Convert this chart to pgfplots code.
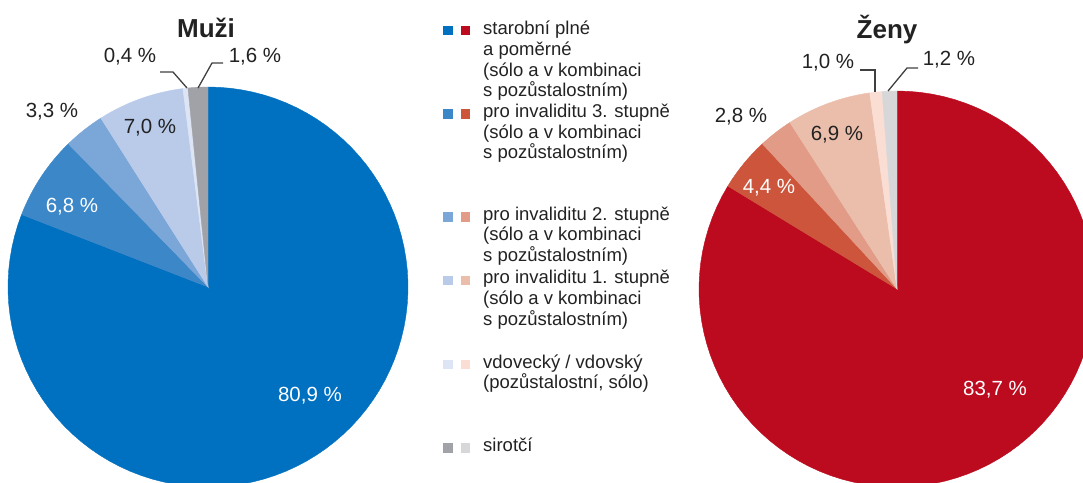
\documentclass[border=0pt]{standalone}
\usepackage{pgfplots}
\pgfplotsset{compat=1.18}
\usepackage{pgfplotstable}
\usepackage{fontspec}
\setmainfont{Liberation Sans}

\definecolor{m1}{RGB}{0,112,192}
\definecolor{m2}{RGB}{60,135,200}
\definecolor{m3}{RGB}{123,166,216}
\definecolor{m4}{RGB}{186,203,234}
\definecolor{m5}{RGB}{221,229,245}
\definecolor{m6}{RGB}{160,162,167}
\definecolor{z1}{RGB}{188,10,30}
\definecolor{z2}{RGB}{205,85,60}
\definecolor{z3}{RGB}{225,155,135}
\definecolor{z4}{RGB}{235,190,172}
\definecolor{z5}{RGB}{250,222,212}
\definecolor{z6}{RGB}{215,215,218}
\definecolor{txt}{RGB}{34,34,34}
\definecolor{lead}{RGB}{64,64,64}

% shares in percent, in drawing order (clockwise from 12 o'clock)
\pgfplotstableread{
id value
1 80.9
2 6.8
3 3.3
4 7.0
5 0.4
6 1.6
}\muzi
\pgfplotstableread{
id value
1 83.7
2 4.4
3 2.8
4 6.9
5 1.0
6 1.2
}\zeny

\newcommand\pieangles[2]{%
  \xdef\curang{90}%
  \foreach \i in {0,...,5}{%
    \pgfplotstablegetelem{\i}{value}\of{#1}%
    \pgfmathsetmacro\nextang{\curang-3.6*\pgfplotsretval}%
    \expandafter\xdef\csname #2s\i\endcsname{\curang}%
    \expandafter\xdef\csname #2e\i\endcsname{\nextang}%
    \xdef\curang{\nextang}%
  }%
}
\pieangles{\muzi}{pm}
\pieangles{\zeny}{pz}

% #1 prefix, #2 index, #3 colour, #4 radius
\newcommand\slice[4]{%
  \addplot[fill=#3, draw=#3, line width=0.4pt, samples=90, variable=\t,
    domain=\csname #1e#2\endcsname:\csname #1s#2\endcsname]
    ({#4*cos(\t)},{#4*sin(\t)}) -- (axis cs:0,0) -- cycle;
}

\newcommand\legline[2]{%
  \node[anchor=west, inner sep=0pt, text=txt, text height=1.5ex, text depth=0.25ex,
    font=\fontsize{18.5}{21}\selectfont] at (483pt,-#1pt) {#2};}
\newcommand\legsq[3]{%
  \fill[#2] (443pt,-#1pt+4.75pt) rectangle ++(9.5pt,-9.5pt);
  \fill[#3] (460.5pt,-#1pt+4.75pt) rectangle ++(9.5pt,-9.5pt);}

\begin{document}
\begin{tikzpicture}
\useasboundingbox (0,0) rectangle (1083pt,-482pt);
\clip (0,0) rectangle (1083pt,-482pt);

% ---------------- Muži ----------------
\begin{axis}[hide axis, x=1pt, y=1pt, xmin=-200, xmax=200, ymin=-200, ymax=200,
  at={(208pt,-287pt)}, anchor=center, clip=false]
  \slice{pm}{0}{m1}{200}
  \slice{pm}{1}{m2}{200}
  \slice{pm}{2}{m3}{200}
  \slice{pm}{3}{m4}{200}
  \slice{pm}{4}{m5}{200}
  \slice{pm}{5}{m6}{200}
  \node[font=\fontsize{26}{30}\selectfont\bfseries, text=txt] at (axis cs:-2,259) {Muži};
  \node[font=\fontsize{20.5}{24}\selectfont, text=white] at (axis cs:102,-109) {80,9 \%};
  \node[font=\fontsize{20.5}{24}\selectfont, text=white] at (axis cs:-136,80) {6,8 \%};
  \node[font=\fontsize{20.5}{24}\selectfont, text=txt] at (axis cs:-156,175) {3,3 \%};
  \node[font=\fontsize{20.5}{24}\selectfont, text=txt] at (axis cs:-58,159) {7,0 \%};
  \node[font=\fontsize{20.5}{24}\selectfont, text=txt] at (axis cs:-78,230) {0,4 \%};
  \node[font=\fontsize{20.5}{24}\selectfont, text=txt] at (axis cs:47,230) {1,6 \%};
  \draw[lead, line width=1.3pt] (axis cs:-21,199) -- (axis cs:-35,215) -- (axis cs:-48,215);
  \draw[lead, line width=1.3pt] (axis cs:-10,199) -- (axis cs:4,224) -- (axis cs:15,224);
\end{axis}

% ---------------- Ženy ----------------
\begin{axis}[hide axis, x=1pt, y=1pt, xmin=-200, xmax=200, ymin=-200, ymax=200,
  at={(897pt,-289pt)}, anchor=center, clip=false]
  \slice{pz}{0}{z1}{198}
  \slice{pz}{1}{z2}{198}
  \slice{pz}{2}{z3}{198}
  \slice{pz}{3}{z4}{198}
  \slice{pz}{4}{z5}{198}
  \slice{pz}{5}{z6}{198}
  \node[font=\fontsize{26}{30}\selectfont\bfseries, text=txt] at (axis cs:-10,259) {Ženy};
  \node[font=\fontsize{20.5}{24}\selectfont, text=white] at (axis cs:98,-101) {83,7 \%};
  \node[font=\fontsize{20.5}{24}\selectfont, text=white] at (axis cs:-128,101) {4,4 \%};
  \node[font=\fontsize{20.5}{24}\selectfont, text=txt] at (axis cs:-156,172) {2,8 \%};
  \node[font=\fontsize{20.5}{24}\selectfont, text=txt] at (axis cs:-60,154) {6,9 \%};
  \node[font=\fontsize{20.5}{24}\selectfont, text=txt] at (axis cs:-69,226) {1,0 \%};
  \node[font=\fontsize{20.5}{24}\selectfont, text=txt] at (axis cs:52,229) {1,2 \%};
  \draw[lead, line width=1.3pt] (axis cs:-22,197) -- (axis cs:-22,219) -- (axis cs:-37,219);
  \draw[lead, line width=1.3pt] (axis cs:-9,198) -- (axis cs:10,221) -- (axis cs:21,221);
\end{axis}

% ---------------- legend ----------------
\legsq{30.5}{m1}{z1}
\legline{31.5}{starobní plné}
\legline{52.5}{a poměrné}
\legline{73}{(sólo a v kombinaci}
\legline{93.5}{s pozůstalostním)}
\legsq{114}{m2}{z2}
\legline{114}{pro invaliditu 3. stupně}
\legline{135}{(sólo a v kombinaci}
\legline{155.5}{s pozůstalostním)}
\legsq{217}{m3}{z3}
\legline{217}{pro invaliditu 2. stupně}
\legline{237.5}{(sólo a v kombinaci}
\legline{258}{s pozůstalostním)}
\legsq{280.5}{m4}{z4}
\legline{280.5}{pro invaliditu 1. stupně}
\legline{301.5}{(sólo a v kombinaci}
\legline{322.5}{s pozůstalostním)}
\legsq{364.5}{m5}{z5}
\legline{365}{vdovecký / vdovský}
\legline{385.5}{(pozůstalostní, sólo)}
\legsq{448}{m6}{z6}
\legline{448}{sirotčí}
\end{tikzpicture}
\end{document}
